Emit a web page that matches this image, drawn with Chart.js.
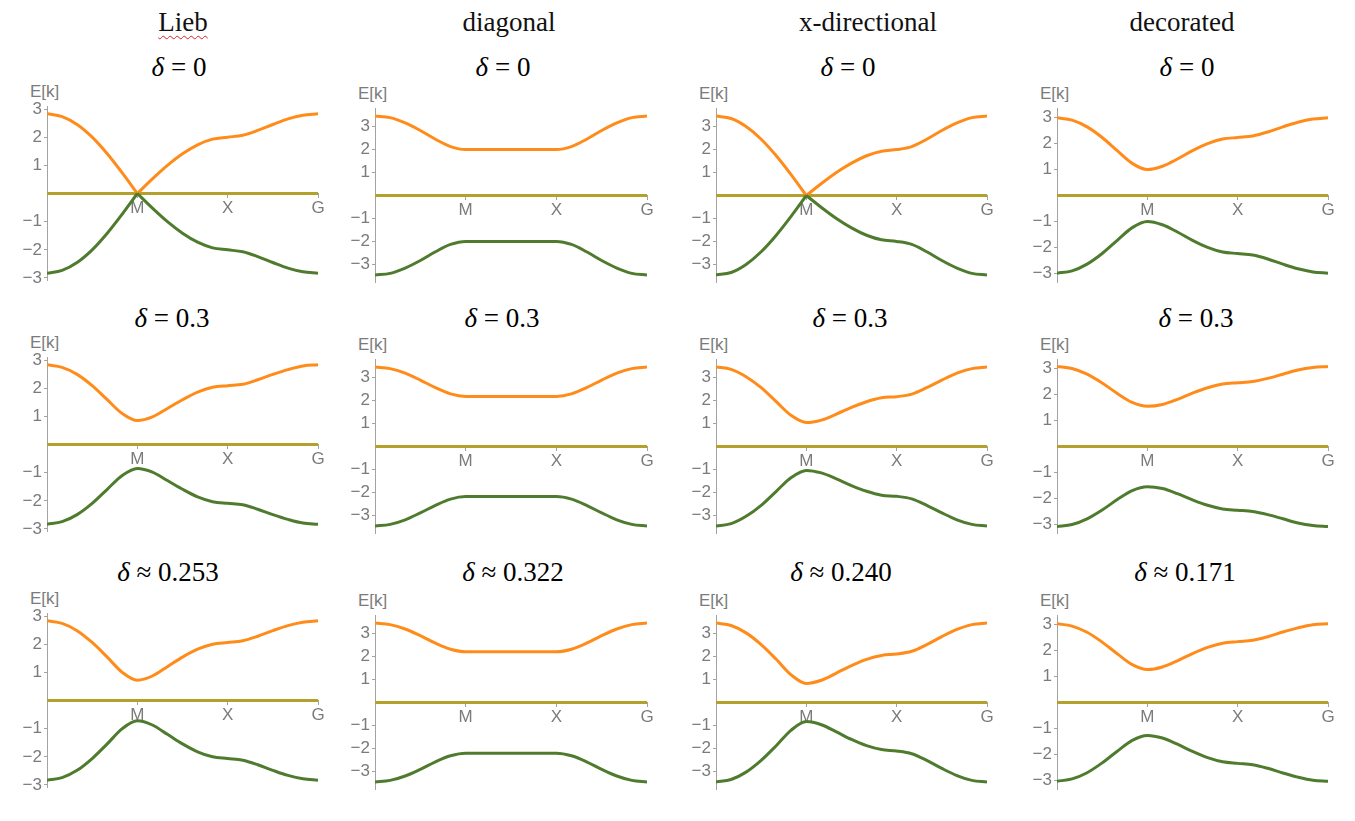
<!DOCTYPE html>
<html>
<head>
<meta charset="utf-8">
<script src="https://cdn.jsdelivr.net/npm/chart.js@4.4.0/dist/chart.umd.min.js"></script>
<style>
  body { margin: 0; background: #fff; width: 1355px; height: 821px; position: relative; overflow: hidden; }
  .col { position: absolute; top: 7px; line-height: 1; font: 27px "Liberation Serif", serif; transform: translateX(-50%); white-space: nowrap; color: #111; }
  .spell { text-decoration: underline wavy #e02020; text-decoration-thickness: 1px; text-underline-offset: 4px; }
  .delta { position: absolute; line-height: 1; font: 27px "Liberation Serif", serif; transform: translate(-50%, -50%); white-space: nowrap; color: #000; }
  .delta i { font-style: italic; }
  .ek { position: absolute; line-height: 1; font: 17px "Liberation Sans", Arial, sans-serif; color: #7b7b7b; }
  .panel { position: absolute; }
</style>
</head>
<body>
<script>
// k path G -> M -> X -> G, six steps per leg
var kPath = [0, 0.167, 0.333, 0.5, 0.667, 0.833, 1, 1.167, 1.333, 1.5, 1.667, 1.833, 2, 2.167, 2.333, 2.5, 2.667, 2.833, 3];
var kTicks = [1, 2, 3];
var kLabels = ["M", "X", "G"];
var flatBand = [0, 0, 0, 0, 0, 0, 0, 0, 0, 0, 0, 0, 0, 0, 0, 0, 0, 0, 0];
var mIndex = 6; // position of M in kPath

var columnTitles = ["Lieb", "diagonal", "x-directional", "decorated"];
var deltaTitles = [
  ["= 0", "= 0", "= 0", "= 0"],
  ["= 0.3", "= 0.3", "= 0.3", "= 0.3"],
  ["\u2248 0.253", "\u2248 0.322", "\u2248 0.240", "\u2248 0.171"]
];

// Lieb
var liebUp0 = [2.83, 2.73, 2.45, 2.00, 1.41, 0.73, 0, 0.52, 1.00, 1.41, 1.73, 1.93, 2.00, 2.07, 2.24, 2.45, 2.65, 2.78, 2.83];
var liebDn0 = [-2.83, -2.73, -2.45, -2.00, -1.41, -0.73, 0, -0.52, -1.00, -1.41, -1.73, -1.93, -2.00, -2.07, -2.24, -2.45, -2.65, -2.78, -2.83];
var liebUp1 = [2.83, 2.74, 2.49, 2.09, 1.59, 1.10, 0.85, 0.98, 1.28, 1.59, 1.86, 2.03, 2.09, 2.14, 2.30, 2.49, 2.66, 2.79, 2.83];
var liebDn1 = [-2.83, -2.74, -2.49, -2.09, -1.59, -1.10, -0.85, -0.98, -1.28, -1.59, -1.86, -2.03, -2.09, -2.14, -2.30, -2.49, -2.66, -2.79, -2.83];
var liebUp2 = [2.83, 2.74, 2.48, 2.06, 1.54, 1.00, 0.72, 0.87, 1.20, 1.54, 1.82, 2.00, 2.06, 2.12, 2.28, 2.48, 2.66, 2.78, 2.83];
var liebDn2 = [-2.83, -2.74, -2.48, -2.06, -1.54, -1.00, -0.72, -0.87, -1.20, -1.54, -1.82, -2.00, -2.06, -2.12, -2.28, -2.48, -2.66, -2.78, -2.83];

// diagonal
var diagUp0 = [3.46, 3.39, 3.16, 2.83, 2.45, 2.13, 2.00, 2.00, 2.00, 2.00, 2.00, 2.00, 2.00, 2.13, 2.45, 2.83, 3.16, 3.39, 3.46];
var diagDn0 = [-3.46, -3.39, -3.16, -2.83, -2.45, -2.13, -2.00, -2.00, -2.00, -2.00, -2.00, -2.00, -2.00, -2.13, -2.45, -2.83, -3.16, -3.39, -3.46];
var diagUp1 = [3.46, 3.39, 3.19, 2.89, 2.56, 2.29, 2.18, 2.18, 2.18, 2.18, 2.18, 2.18, 2.18, 2.29, 2.56, 2.89, 3.19, 3.39, 3.46];
var diagDn1 = [-3.46, -3.39, -3.19, -2.89, -2.56, -2.29, -2.18, -2.18, -2.18, -2.18, -2.18, -2.18, -2.18, -2.29, -2.56, -2.89, -3.19, -3.39, -3.46];
var diagUp2 = [3.46, 3.39, 3.20, 2.91, 2.58, 2.32, 2.21, 2.21, 2.21, 2.21, 2.21, 2.21, 2.21, 2.32, 2.58, 2.91, 3.20, 3.39, 3.46];
var diagDn2 = [-3.46, -3.39, -3.20, -2.91, -2.58, -2.32, -2.21, -2.21, -2.21, -2.21, -2.21, -2.21, -2.21, -2.32, -2.58, -2.91, -3.20, -3.39, -3.46];

// x-directional
var xdirUp0 = [3.46, 3.35, 3.00, 2.45, 1.73, 0.90, 0, 0.52, 1.00, 1.41, 1.73, 1.93, 2.00, 2.13, 2.45, 2.83, 3.16, 3.39, 3.46];
var xdirDn0 = [-3.46, -3.35, -3.00, -2.45, -1.73, -0.90, 0, -0.52, -1.00, -1.41, -1.73, -1.93, -2.00, -2.13, -2.45, -2.83, -3.16, -3.39, -3.46];
var xdirUp1 = [3.46, 3.36, 3.04, 2.56, 1.95, 1.35, 1.04, 1.15, 1.41, 1.70, 1.95, 2.12, 2.17, 2.28, 2.56, 2.89, 3.19, 3.39, 3.46];
var xdirDn1 = [-3.46, -3.36, -3.04, -2.56, -1.95, -1.35, -1.04, -1.15, -1.41, -1.70, -1.95, -2.12, -2.17, -2.28, -2.56, -2.89, -3.19, -3.39, -3.46];
var xdirUp2 = [3.46, 3.35, 3.03, 2.52, 1.88, 1.20, 0.83, 0.97, 1.28, 1.61, 1.88, 2.05, 2.11, 2.23, 2.52, 2.87, 3.18, 3.39, 3.46];
var xdirDn2 = [-3.46, -3.35, -3.03, -2.52, -1.88, -1.20, -0.83, -0.97, -1.28, -1.61, -1.88, -2.05, -2.11, -2.23, -2.52, -2.87, -3.18, -3.39, -3.46];

// decorated
var decoUp0 = [3.00, 2.91, 2.65, 2.24, 1.73, 1.24, 1.00, 1.13, 1.41, 1.73, 2.00, 2.18, 2.24, 2.30, 2.45, 2.65, 2.83, 2.95, 3.00];
var decoDn0 = [-3.00, -2.91, -2.65, -2.24, -1.73, -1.24, -1.00, -1.13, -1.41, -1.73, -2.00, -2.18, -2.24, -2.30, -2.45, -2.65, -2.83, -2.95, -3.00];
var decoUp1 = [3.09, 3.01, 2.79, 2.45, 2.05, 1.70, 1.55, 1.62, 1.82, 2.06, 2.27, 2.41, 2.46, 2.51, 2.63, 2.79, 2.95, 3.05, 3.09];
var decoDn1 = [-3.09, -3.01, -2.79, -2.45, -2.05, -1.70, -1.55, -1.62, -1.82, -2.06, -2.27, -2.41, -2.46, -2.51, -2.63, -2.79, -2.95, -3.05, -3.09];
var decoUp2 = [3.04, 2.95, 2.71, 2.33, 1.88, 1.46, 1.27, 1.37, 1.61, 1.89, 2.13, 2.29, 2.35, 2.40, 2.54, 2.72, 2.88, 3.00, 3.04];
var decoDn2 = [-3.04, -2.95, -2.71, -2.33, -1.88, -1.46, -1.27, -1.37, -1.61, -1.89, -2.13, -2.29, -2.35, -2.40, -2.54, -2.72, -2.88, -3.00, -3.04];

var yTicks = [-3, -2, -1, 1, 2, 3];
var yRange = [3.1, 3.8, 3.8, 3.37];

var bands = [
  [[liebUp0, liebDn0], [diagUp0, diagDn0], [xdirUp0, xdirDn0], [decoUp0, decoDn0]],
  [[liebUp1, liebDn1], [diagUp1, diagDn1], [xdirUp1, xdirDn1], [decoUp1, decoDn1]],
  [[liebUp2, liebDn2], [diagUp2, diagDn2], [xdirUp2, xdirDn2], [decoUp2, decoDn2]]
];

// layout (pixels)
var axisX = [47, 375, 716, 1057];
var axisEnd = [318, 647, 987, 1328];
var colAdj = [0, 2, 2, 2];
var rowTop = [106, 357, 613];
var plotH = 175;
var titleX = [183, 509, 868, 1182];
var deltaX = [[179, 503, 848, 1187], [172, 502, 850, 1196], [168, 513, 841, 1185]];
var deltaY = [67, 318, 572];
var YW = 40, PAD = 12, PADR = 14;

var orange = "#ff8c1a", green = "#4f7b2e", olive = "#b3a12c";
var axisColor = "#a3a3a3", tickColor = "#7b7b7b";
var tickFont = { family: "'Liberation Sans', Arial, sans-serif", size: 17 };

function add(cls, html, x, y) {
  var d = document.createElement("div");
  d.className = cls;
  d.innerHTML = html;
  d.style.left = x + "px";
  d.style.top = y + "px";
  document.body.appendChild(d);
  return d;
}

function pts(arr, from, to) {
  var out = [];
  for (var i = from; i <= to; i++) out.push({ x: kPath[i], y: arr[i] });
  return out;
}

// a band that closes at M is drawn as two legs so the cone stays sharp
function bandSets(arr, color) {
  var last = kPath.length - 1;
  if (arr[mIndex] === 0) {
    return [
      { data: pts(arr, 0, mIndex), borderColor: color },
      { data: pts(arr, mIndex, last), borderColor: color }
    ];
  }
  return [{ data: pts(arr, 0, last), borderColor: color }];
}

columnTitles.forEach(function(t, c) {
  var html = c === 0 ? '<span class="spell">' + t + '</span>' : t;
  add("col", html, titleX[c], 7);
});

function makePanel(r, c) {
  add("delta", "<i>\u03b4</i> " + deltaTitles[r][c], deltaX[r][c], deltaY[r]);
  var py = rowTop[r] + colAdj[c];
  add("ek", "E[k]", axisX[c] - 17, py - 24);

  var w = YW + (axisEnd[c] - axisX[c]) + PADR;
  var h = PAD * 2 + plotH;
  var canvas = document.createElement("canvas");
  canvas.width = w;
  canvas.height = h;
  canvas.className = "panel";
  canvas.style.left = (axisX[c] - YW) + "px";
  canvas.style.top = (py - PAD) + "px";
  document.body.appendChild(canvas);

  var rng = yRange[c];
  var datasets = bandSets(bands[r][c][1], green)
    .concat(bandSets(bands[r][c][0], orange))
    .concat([{ data: pts(flatBand, 0, kPath.length - 1), borderColor: olive }]);

  new Chart(canvas.getContext("2d"), {
    type: "line",
    data: { datasets: datasets },
    options: {
      responsive: false,
      animation: false,
      layout: { padding: { top: PAD, bottom: PAD, left: 0, right: PADR } },
      plugins: { legend: { display: false }, tooltip: { enabled: false } },
      elements: {
        point: { radius: 0 },
        line: { borderWidth: 3, cubicInterpolationMode: "monotone", fill: false }
      },
      scales: {
        x: {
          type: "linear",
          min: 0,
          max: 3,
          position: { y: 0 },
          afterFit: function(s) { s.height = 0; },
          afterBuildTicks: function(s) { s.ticks = kTicks.map(function(v) { return { value: v }; }); },
          ticks: {
            autoSkip: false,
            maxRotation: 0,
            padding: 1,
            color: tickColor,
            font: tickFont,
            callback: function(v) { return kLabels[kTicks.indexOf(v)]; }
          },
          grid: { drawOnChartArea: false, tickLength: 4, color: axisColor },
          border: { color: axisColor }
        },
        y: {
          min: -rng,
          max: rng,
          afterFit: function(s) { s.width = YW; },
          afterBuildTicks: function(s) { s.ticks = yTicks.map(function(v) { return { value: v }; }); },
          ticks: {
            padding: 2,
            color: tickColor,
            font: tickFont,
            callback: function(v) { return v < 0 ? "\u2212" + Math.abs(v) : String(v); }
          },
          grid: { drawOnChartArea: false, tickLength: 3, color: axisColor },
          border: { color: axisColor }
        }
      }
    }
  });
}

for (var r = 0; r < 3; r++) {
  for (var c = 0; c < 4; c++) {
    makePanel(r, c);
  }
}
</script>
</body>
</html>
